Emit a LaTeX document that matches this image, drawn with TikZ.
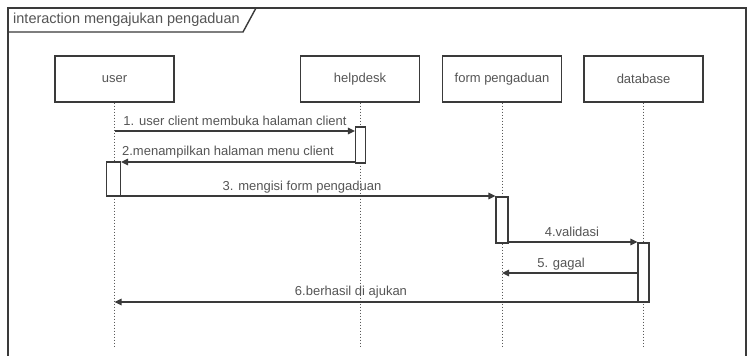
\documentclass[tikz,border=0pt]{standalone}
\usepackage{fontspec}
\setmainfont{Liberation Sans}
\usetikzlibrary{arrows.meta}
\definecolor{ink}{HTML}{3A3A3A}
\definecolor{txt}{HTML}{555555}
\definecolor{life}{HTML}{5A5A5A}
\begin{document}
\begin{tikzpicture}[x=1pt,y=-1pt,
  every node/.style={font=\fontsize{13}{15}\selectfont, text=txt},
  actor/.style={draw=ink, line width=1.4pt, fill=white, minimum width=119pt, minimum height=46pt, inner sep=0pt},
  act/.style={draw=ink, line width=1.2pt, fill=white, inner sep=0pt},
  lifeline/.style={draw=life, line width=1pt, dotted},
  msg/.style={draw=ink, line width=1.4pt, -{Triangle[length=7pt,width=6.5pt]}},
  lbl/.style={inner sep=1pt}]
\useasboundingbox (0,0) rectangle (750,356);
\fill[white] (0,0) rectangle (750,356);

% frame and its name tab
\draw[ink, line width=1.6pt] (8,360) -- (8,8) -- (746,8) -- (746,360);
\draw[ink, line width=1.4pt] (8,32) -- (243,32) -- (256,8);
\node[anchor=west, lbl, font=\fontsize{14.5}{16}\selectfont] (title) at (12,20) {interaction mengajukan pengaduan};

% participants
\node[actor] (user) at (114.5,79) {user};
\node[actor] (helpdesk) at (360,79) {helpdesk};
\node[actor] (form) at (502,79) {form pengaduan};
\node[actor] (db) at (643.5,79) {database};

% lifelines
\coordinate (bottom) at (0,348);
\foreach \p in {user,helpdesk,form,db}
  \draw[lifeline] (\p.south) -- (\p.south |- bottom);

% activation bars
\node[act, minimum width=10pt, minimum height=36pt] (hd1) at (360.5,145) {};
\node[act, minimum width=14pt, minimum height=34pt] (ua) at (113.5,179) {};
\node[act, minimum width=12pt, minimum height=46pt] (fa) at (502,220) {};
\node[act, minimum width=11pt, minimum height=59pt] (da) at (643.5,272.5) {};

% message rows
\coordinate (m1) at (0,131);
\coordinate (m2) at (0,162);
\coordinate (m3) at (0,196);
\coordinate (m4) at (0,242);
\coordinate (m5) at (0,273);
\coordinate (m6) at (0,302);

\draw[msg] (user.south |- m1) -- (hd1.west |- m1);
\node[lbl] (l1) at (235,121) {1. user client membuka halaman client};

\draw[msg] (hd1.west |- m2) -- (ua.east |- m2);
\node[lbl] (l2) at (228,152) {2.menampilkan halaman menu client};

\draw[msg] (ua.east |- m3) -- (fa.west |- m3);
\node[lbl] (l3) at (302,187) {3. mengisi form pengaduan};

\draw[msg] (fa.east |- m4) -- (da.west |- m4);
\node[lbl] (l4) at (572,232) {4.validasi};

\draw[msg] (da.west |- m5) -- (form.south |- m5);
\node[lbl] (l5) at (561,264) {5. gagal};

\draw[msg] (da.west |- m6) -- (user.south |- m6);
\node[lbl] (l6) at (351,292) {6.berhasil di ajukan};
\end{tikzpicture}
\end{document}
